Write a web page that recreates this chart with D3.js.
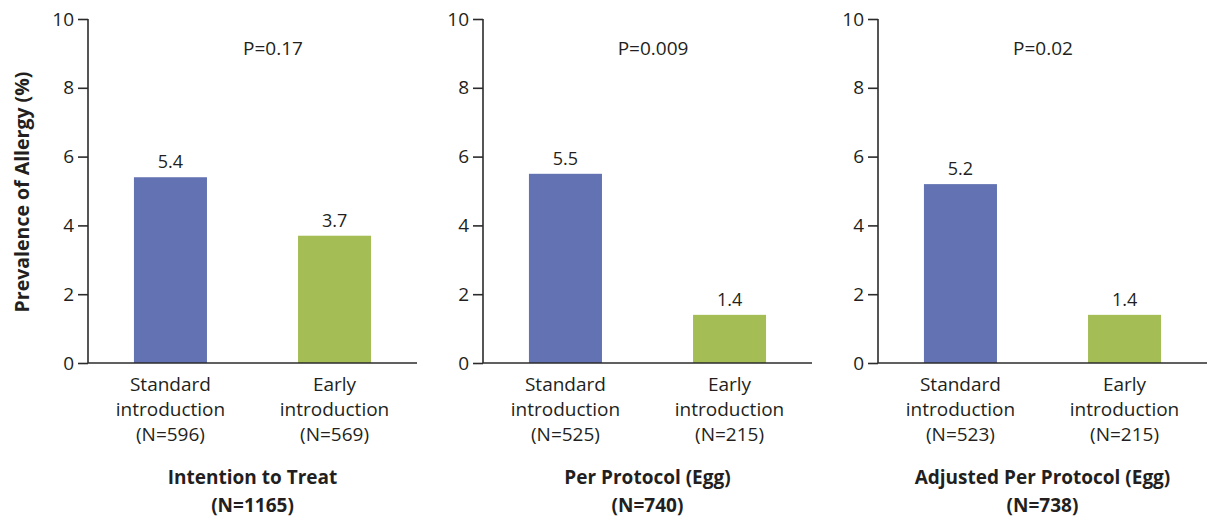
<!DOCTYPE html>
<html>
<head>
<meta charset="utf-8">
<script src="https://cdn.jsdelivr.net/npm/d3@7"></script>
<style>
  html, body { margin: 0; padding: 0; background: #fff; }
  svg { display: block; }
  text { font-family: "Open Sans", "Noto Sans", sans-serif; fill: #231f20; }
</style>
</head>
<body>
<svg id="chart" width="1209" height="519"></svg>
<script>
// ---- data ----
const panels = ["Intention to Treat", "Per Protocol (Egg)", "Adjusted Per Protocol (Egg)"];
const panelN = ["(N=1165)", "(N=740)", "(N=738)"];
const pValues = ["P=0.17", "P=0.009", "P=0.02"];
const groups = ["Standard", "Early"];
const groupLabels = ["Standard introduction", "Early introduction"];
const standardValues = [5.4, 5.5, 5.2];
const earlyValues = [3.7, 1.4, 1.4];
const standardN = [596, 525, 523];
const earlyN = [569, 215, 215];
const yTicks = [0, 2, 4, 6, 8, 10];
const yLabel = "Prevalence of Allergy (%)";

// ---- layout ----
const svg = d3.select("#chart");
const colors = { Standard: "#6272b2", Early: "#a5bd55" };
const axisColor = "#2b2b2b";
const plotTop = 19, plotBottom = 363, panelWidth = 329;
const pLabelDx = [185, 170, 165];

const panelScale = d3.scaleBand().domain(panels).range([88, 88 + 3 * 395]).paddingInner(0).paddingOuter(0);
const y = d3.scaleLinear().domain([0, 10]).range([plotBottom, plotTop]);
const x = d3.scaleBand().domain(groups).range([0, panelWidth]).paddingInner(0.555).paddingOuter(0.28);

panels.forEach((name, i) => {
  const g = svg.append("g").attr("transform", `translate(${panelScale(name)},0)`);
  const vals = [standardValues[i], earlyValues[i]];
  const ns = [standardN[i], earlyN[i]];

  // bars
  g.selectAll("rect.bar").data(groups).enter().append("rect")
    .attr("class", "bar")
    .attr("x", d => x(d))
    .attr("width", x.bandwidth())
    .attr("y", (d, j) => y(vals[j]))
    .attr("height", (d, j) => y(0) - y(vals[j]))
    .attr("fill", d => colors[d]);

  // value labels
  g.selectAll("text.val").data(groups).enter().append("text")
    .attr("class", "val")
    .attr("x", d => x(d) + x.bandwidth() / 2)
    .attr("y", (d, j) => y(vals[j]) - 9)
    .attr("text-anchor", "middle")
    .style("font-size", "18px")
    .text((d, j) => vals[j].toFixed(1));

  // y axis
  const yAxis = d3.axisLeft(y).tickValues(yTicks).tickSize(10).tickPadding(4).tickFormat(d3.format("d"));
  const ya = g.append("g").call(yAxis);
  ya.select(".domain").attr("d", `M0,${plotTop}V${plotBottom}`).attr("stroke", axisColor).attr("stroke-width", 1.6);
  ya.selectAll(".tick line").attr("stroke", axisColor).attr("stroke-width", 1.6);
  ya.selectAll(".tick text").style("font-size", "19px").attr("fill", "#231f20")
    .style("font-family", '"Open Sans", "Noto Sans", sans-serif');

  // x axis line
  const xAxis = d3.axisBottom(x).tickSize(0).tickFormat("");
  const xa = g.append("g").attr("transform", `translate(0,${plotBottom})`).call(xAxis);
  xa.select(".domain").attr("d", `M0,0H${panelWidth}`).attr("stroke", axisColor).attr("stroke-width", 1.6);

  // category labels
  groups.forEach((grp, j) => {
    const cx = x(grp) + x.bandwidth() / 2;
    const words = groupLabels[j].split(" ");
    const lines = [words[0], words[1], `(N=${ns[j]})`];
    lines.forEach((ln, k) => {
      g.append("text")
        .attr("x", cx)
        .attr("y", 391 + k * 25)
        .attr("text-anchor", "middle")
        .style("font-size", "19px")
        .text(ln);
    });
  });

  // P value
  g.append("text")
    .attr("x", pLabelDx[i])
    .attr("y", 55)
    .attr("text-anchor", "middle")
    .style("font-size", "19px")
    .text(pValues[i]);

  // panel title
  const midX = (x("Standard") + x("Early") + x.bandwidth()) / 2;
  g.append("text")
    .attr("x", midX)
    .attr("y", 484)
    .attr("text-anchor", "middle")
    .style("font-size", "19px")
    .style("font-weight", "bold")
    .text(name);
  g.append("text")
    .attr("x", midX)
    .attr("y", 512)
    .attr("text-anchor", "middle")
    .style("font-size", "19px")
    .style("font-weight", "bold")
    .text(panelN[i]);
});

// y-axis label
svg.append("text")
  .attr("transform", `translate(29,192) rotate(-90)`)
  .attr("text-anchor", "middle")
  .style("font-size", "19.5px")
  .style("font-weight", "bold")
  .text(yLabel);
</script>
</body>
</html>
